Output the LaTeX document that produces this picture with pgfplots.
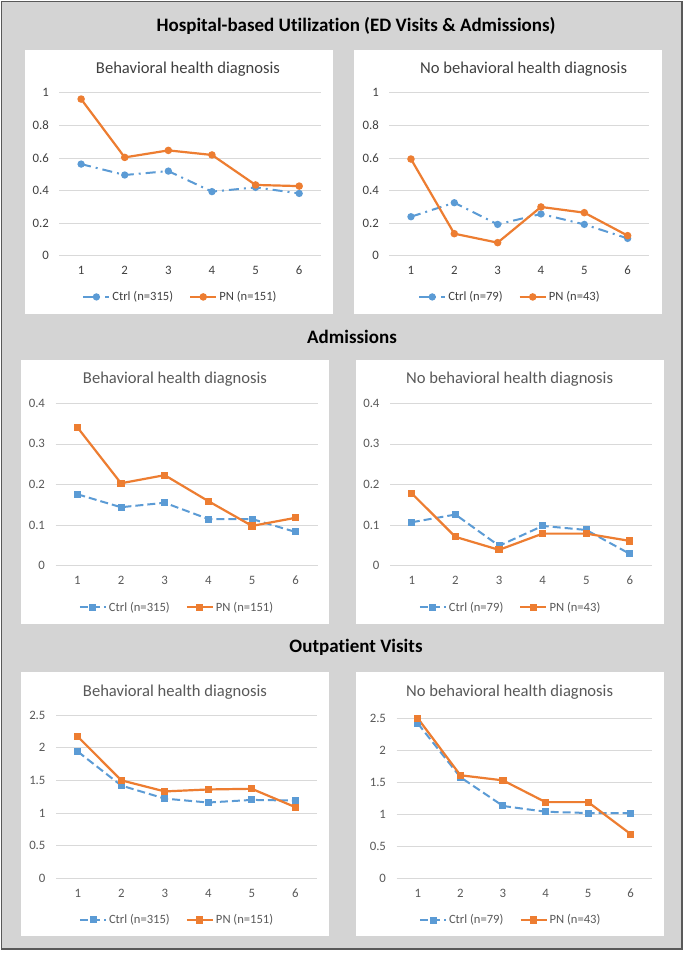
\documentclass[border=0pt]{standalone}
\usepackage{fontspec}
\setmainfont{Carlito}[Ligatures=NoCommon]
\usepackage{pgfplots}
\pgfplotsset{compat=1.18}
\definecolor{cblue}{HTML}{5B9BD5}
\definecolor{corange}{HTML}{ED7D31}
\definecolor{bggray}{HTML}{D4D4D4}
\definecolor{bordergray}{HTML}{595959}
\definecolor{gridc}{HTML}{D9D9D9}
\definecolor{txtA}{HTML}{404040}
\definecolor{txtB}{HTML}{595959}
\pgfplotsset{
  panel/.style={
    scale only axis, anchor=south west,
    xmin=0.5, xmax=6.5, ymin=0,
    xtick={1,2,3,4,5,6},
    axis line style={draw=none},
    major tick length=0pt,
    tick pos=left,
    ymajorgrids, grid style={draw=gridc, line width=0.75pt},
    /pgf/number format/assume math mode=true,
    ticklabel style={font=\fontsize{12.8}{15}\selectfont},
    xticklabel style={yshift=-7pt},
    yticklabel style={xshift=-7pt},
    legend columns=2,
    legend style={draw=none, fill=none, anchor=center, font=\fontsize{12.6}{15}\selectfont,
      /tikz/every even column/.append style={column sep=14pt}},
    legend cell align=left,
    legend image code/.code={\draw[mark repeat=2,mark phase=2] plot coordinates {(0pt,0pt)(13pt,0pt)(26pt,0pt)};},
    clip=false,
  },
  ctrlA/.style={cblue, line width=2pt, dash pattern=on 10pt off 5pt on 2pt off 5pt, mark=*, mark size=2.6pt, mark options={solid}},
  pnA/.style={corange, line width=2.2pt, mark=*, mark size=2.6pt, mark options={solid}},
  ctrlB/.style={cblue, line width=2pt, dash pattern=on 8pt off 4pt, mark=square*, mark size=2.5pt, mark options={solid}},
  pnB/.style={corange, line width=2.2pt, mark=square*, mark size=2.5pt, mark options={solid}},
}
\begin{document}
\begin{tikzpicture}[x=1pt,y=1pt]
\useasboundingbox (0,0) rectangle (685,953);
\fill[white] (0,0) rectangle (685,953);
\draw[fill=bggray, draw=bordergray, line width=1.5pt] (1.5,4) rectangle (682,951.5);
% panels
\fill[white] (25,639) rectangle (333,903);
\fill[white] (354,639) rectangle (662,903);
\fill[white] (21,329) rectangle (329,593);
\fill[white] (356,329) rectangle (664,593);
\fill[white] (21,17) rectangle (329,281);
\fill[white] (356,17) rectangle (664,281);
% section titles
\node[font=\fontsize{19}{22}\selectfont\bfseries, text=black] at (356,927) {Hospital-based Utilization (ED Visits \& Admissions)};
\node[font=\fontsize{19}{22}\selectfont\bfseries, text=black] at (352,616.3) {Admissions};
\node[font=\fontsize{19}{22}\selectfont\bfseries, text=black] at (356,305.7) {Outpatient Visits};
% subtitles
\node[font=\fontsize{16.6}{19}\selectfont, text=txtA] at (188,884) {Behavioral health diagnosis};
\node[font=\fontsize{16.6}{19}\selectfont, text=txtA] at (523.6,884) {No behavioral health diagnosis};
\node[font=\fontsize{16.6}{19}\selectfont, text=txtB] at (175,574) {Behavioral health diagnosis};
\node[font=\fontsize{16.6}{19}\selectfont, text=txtB] at (509.6,574) {No behavioral health diagnosis};
\node[font=\fontsize{16.6}{19}\selectfont, text=txtB] at (175,261.3) {Behavioral health diagnosis};
\node[font=\fontsize{16.6}{19}\selectfont, text=txtB] at (509.6,261.3) {No behavioral health diagnosis};

% Row 1 left
\begin{axis}[panel, at={(59.3pt,697.3pt)}, width=261.7pt, height=163pt,
  ymax=1, ytick={0,0.2,0.4,0.6,0.8,1}, ticklabel style={text=txtA},
  legend style={at={(0.463,-0.253)}, text=txtA}]
\addplot[ctrlA] coordinates {(1,0.562) (2,0.495) (3,0.519) (4,0.393) (5,0.419) (6,0.382)};
\addplot[pnA] coordinates {(1,0.961) (2,0.603) (3,0.646) (4,0.618) (5,0.434) (6,0.427)};
\legend{Ctrl (n=315), PN (n=151)}
\end{axis}
% Row 1 right
\begin{axis}[panel, at={(389.3pt,697.3pt)}, width=260pt, height=163pt,
  ymax=1, ytick={0,0.2,0.4,0.6,0.8,1}, ticklabel style={text=txtA},
  legend style={at={(0.464,-0.253)}, text=txtA}]
\addplot[ctrlA] coordinates {(1,0.239) (2,0.325) (3,0.192) (4,0.256) (5,0.192) (6,0.106)};
\addplot[pnA] coordinates {(1,0.593) (2,0.135) (3,0.080) (4,0.299) (5,0.264) (6,0.123)};
\legend{Ctrl (n=79), PN (n=43)}
\end{axis}
% Row 2 left
\begin{axis}[panel, at={(55.5pt,387.3pt)}, width=262pt, height=162.4pt,
  ymax=0.4, ytick={0,0.1,0.2,0.3,0.4}, ticklabel style={text=txtB},
  legend style={at={(0.464,-0.256)}, text=txtB}]
\addplot[ctrlB] coordinates {(1,0.176) (2,0.144) (3,0.155) (4,0.115) (5,0.115) (6,0.083)};
\addplot[pnB] coordinates {(1,0.341) (2,0.203) (3,0.223) (4,0.159) (5,0.098) (6,0.118)};
\legend{Ctrl (n=315), PN (n=151)}
\end{axis}
% Row 2 right
\begin{axis}[panel, at={(390pt,387.3pt)}, width=261.7pt, height=162.4pt,
  ymax=0.4, ytick={0,0.1,0.2,0.3,0.4}, ticklabel style={text=txtB},
  legend style={at={(0.461,-0.256)}, text=txtB}]
\addplot[ctrlB] coordinates {(1,0.107) (2,0.126) (3,0.049) (4,0.098) (5,0.088) (6,0.029)};
\addplot[pnB] coordinates {(1,0.178) (2,0.071) (3,0.039) (4,0.079) (5,0.079) (6,0.061)};
\legend{Ctrl (n=79), PN (n=43)}
\end{axis}
% Row 3 left
\begin{axis}[panel, at={(56pt,74.7pt)}, width=261pt, height=163.3pt,
  ymax=2.5, ytick={0,0.5,1,1.5,2,2.5}, ticklabel style={text=txtB},
  legend style={at={(0.464,-0.255)}, text=txtB}]
\addplot[ctrlB] coordinates {(1,1.94) (2,1.42) (3,1.22) (4,1.16) (5,1.20) (6,1.19)};
\addplot[pnB] coordinates {(1,2.17) (2,1.50) (3,1.33) (4,1.36) (5,1.37) (6,1.09)};
\legend{Ctrl (n=315), PN (n=151)}
\end{axis}
% Row 3 right
\begin{axis}[panel, at={(396.5pt,74.7pt)}, width=255.5pt, height=160pt,
  ymax=2.5, ytick={0,0.5,1,1.5,2,2.5}, ticklabel style={text=txtB},
  legend style={at={(0.447,-0.261)}, text=txtB}]
\addplot[ctrlB] coordinates {(1,2.42) (2,1.58) (3,1.13) (4,1.04) (5,1.02) (6,1.02)};
\addplot[pnB] coordinates {(1,2.50) (2,1.61) (3,1.53) (4,1.19) (5,1.19) (6,0.69)};
\legend{Ctrl (n=79), PN (n=43)}
\end{axis}
\end{tikzpicture}
\end{document}
